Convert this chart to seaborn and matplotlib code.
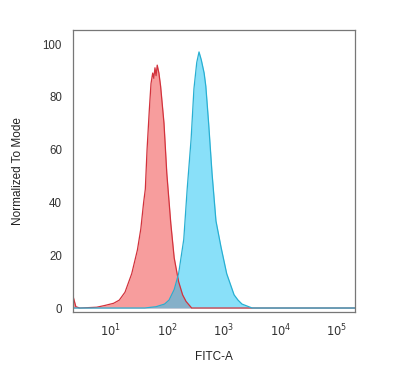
import numpy as np
import pandas as pd
import seaborn as sns
import matplotlib.pyplot as plt

# control (red) histogram, FITC-A intensity vs normalized count
red_fitc = [2.14, 2.40, 2.82, 5.62, 7.94, 11.2, 14.1, 17.8, 23.4, 29.5, 33.9, 38.0, 40.7,
            43.7, 47.9, 51.3, 55.0, 57.5, 60.3, 63.1, 66.1, 70.8, 75.9, 87.1, 97.7,
            115, 132, 158, 186, 214, 269, 209000]
red_mode = [4.5, 0.5, 0, 0.3, 1.0, 1.8, 3, 6, 13, 22, 30, 40, 45,
            60, 75, 85, 89, 87, 91, 88, 92, 89, 84, 70, 51,
            32, 19, 10, 5, 2.5, 0, 0]

# stained (blue) histogram
blue_fitc = [2.14, 39.8, 63.1, 89.1, 107, 132, 158, 195, 224, 263, 295, 331, 363, 398,
             447, 479, 537, 617, 724, 891, 1122, 1514, 1778, 2089, 3162, 209000]
blue_mode = [0, 0, 0.5, 1.5, 3, 7, 13, 26, 45, 64, 83, 93, 97, 94,
             89, 84, 70, 51, 33, 23, 13, 5, 3, 1.5, 0, 0]

red = pd.DataFrame({"FITC-A": red_fitc, "mode": red_mode})
blue = pd.DataFrame({"FITC-A": blue_fitc, "mode": blue_mode})

sns.set_style("white")
plt.rcParams["font.family"] = ["Liberation Sans", "DejaVu Sans"]

fig = plt.figure(figsize=(4, 3.8), dpi=100)
ax = fig.add_axes([0.1825, 0.179, 0.705, 0.742])

ax.fill_between(red["FITC-A"], red["mode"], color="#f03c3c", alpha=0.5, lw=0)
sns.lineplot(data=red, x="FITC-A", y="mode", color="#d2323c", lw=0.9, ax=ax)
ax.fill_between(blue["FITC-A"], blue["mode"], color="#14c3f5", alpha=0.5, lw=0)
sns.lineplot(data=blue, x="FITC-A", y="mode", color="#28afd2", lw=0.9, ax=ax)

ax.set_xscale("log")
ax.set_xlim(10 ** 0.33, 10 ** 5.32)
ax.set_ylim(-1.5, 105.3)
ax.set_xticks([1e1, 1e2, 1e3, 1e4, 1e5])
ax.set_xticklabels([r"$10^{%d}$" % i for i in range(1, 6)])
ax.minorticks_off()
ax.set_yticks([0, 20, 40, 60, 80, 100])
ax.tick_params(length=0, labelsize=8.3, colors="#333333", pad=8)
ax.set_xlabel("FITC-A", fontsize=8.5, color="#222222", labelpad=8)
ax.set_ylabel("Normalized To Mode", fontsize=8.5, color="#222222", labelpad=13)
for s in ax.spines.values():
    s.set_color("#777777")
    s.set_linewidth(0.9)

fig.savefig("out.png", dpi=100)
